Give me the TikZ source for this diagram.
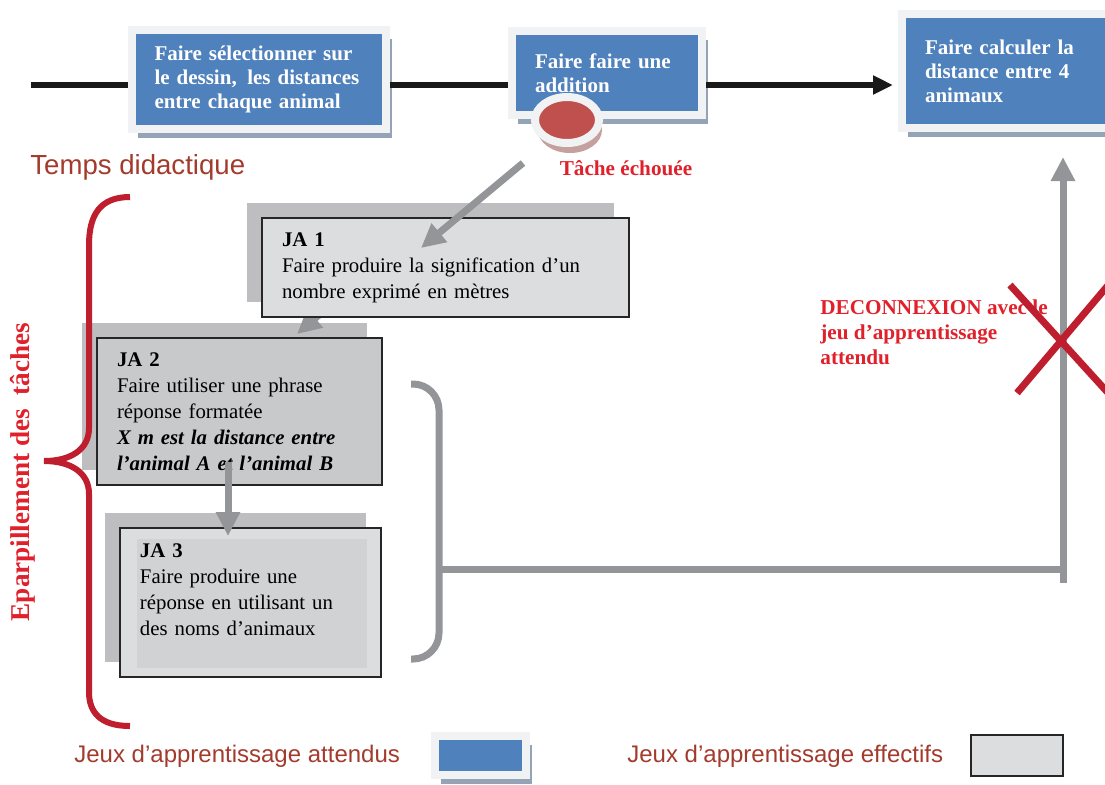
\documentclass[tikz,border=0pt]{standalone}
\usepackage{fontspec}
\setmainfont{Liberation Serif}
\setsansfont{Liberation Sans}
\usetikzlibrary{positioning, calc, arrows.meta, shadows, shapes.geometric}
\definecolor{attbleu}{HTML}{4F81BD}
\definecolor{cadreclair}{HTML}{F1F2F3}
\definecolor{ombrebleue}{HTML}{94A3B6}
\definecolor{ombrerouge}{HTML}{C4A09E}
\definecolor{echecrouge}{HTML}{C0504D}
\definecolor{jaclair}{HTML}{DCDDDF}
\definecolor{jafonce}{HTML}{C8C9CB}
\definecolor{jainterne}{HTML}{D1D2D4}
\definecolor{jaombre}{HTML}{BEBEC0}
\definecolor{grisfleche}{HTML}{939598}
\definecolor{rougecroix}{HTML}{BE1E2D}
\definecolor{rougevif}{HTML}{E0202A}
\definecolor{brique}{HTML}{A33B2D}
\pgfdeclarelayer{dessus}
\pgfsetlayers{main,dessus}

\begin{document}
\begin{tikzpicture}[x=0.5pt,y=-0.5pt,
    attendu/.style={fill=attbleu,draw=cadreclair,line width=4pt,text=white,align=left,
        font=\fontsize{10.5}{12}\selectfont\bfseries,inner xsep=11.5pt,
        drop shadow={shadow xshift=3pt,shadow yshift=-4.5pt,fill=ombrebleue,opacity=1}},
    effectif/.style={fill=jaclair,draw=black!85,line width=1pt,align=left,
        font=\fontsize{10.4}{13}\selectfont,inner xsep=10pt},
    ombreja/.style={drop shadow={shadow xshift=-7.5pt,shadow yshift=7.5pt,fill=jaombre,opacity=1}},
    grislien/.style={draw=grisfleche,line width=3.5pt},
    grisfl/.style={grislien,-{Triangle[length=12pt,width=11.5pt]}},
    temps/.style={draw=black!90,line width=3pt},
    rouge/.style={text=rougevif,font=\fontsize{10.6}{12.5}\selectfont\bfseries,align=left,inner sep=0pt},
    legende/.style={text=brique,font=\sffamily\fontsize{12}{14}\selectfont,inner sep=0pt,anchor=base west}]
\useasboundingbox (0,0) rectangle (1105,784);

\node[attendu,text width=104pt,minimum height=49.5pt] (sel) at (258.5,79.5) {Faire sélectionner sur\\le dessin,\,\ les distances\\entre chaque animal};
\node[attendu,text width=72pt,minimum height=41.75pt] (add) at (607,72.75) {Faire faire une\\addition};
\node[attendu,text width=80.5pt,minimum height=57pt] (calc) at (1005.5,71) {Faire calculer la\\distance entre 4\\animaux};
\coordinate (debut) at (31,85);
\draw[temps] (debut) -- (sel.west |- debut) (sel.east |- debut) -- (add.west |- debut);
\draw[temps,-{Triangle[length=10pt,width=9pt]},shorten >=2.5pt] (add.east |- debut) -- (calc.west |- debut);
\node[ellipse,fill=echecrouge,draw=cadreclair,line width=4pt,minimum width=32pt,minimum height=23pt,inner sep=0pt,
    drop shadow={shadow xshift=1.5pt,shadow yshift=-5pt,fill=ombrerouge,opacity=1}] (echec) at (567,120) {};
\node[rouge] (tache) at (626,168.5) {Tâche échouée};
\node[anchor=base west,inner sep=0pt,text=brique,font=\sffamily\fontsize{13.8}{16}\selectfont] (tps) at (30,174) {Temps didactique};

\begin{pgfonlayer}{dessus}
\node[effectif,ombreja,text width=163.5pt,minimum height=49.5pt] (ja1) at (445.5,267.5) {\textbf{JA 1}\\Faire produire la signification d’un\\nombre exprimé en mètres};
\coordinate (depart) at (523,163);
\draw[grisfl] (depart) -- ([shift={(160,31)}]ja1.north west);
\end{pgfonlayer}

\node[effectif,ombreja,fill=jafonce,text width=122.5pt,minimum height=73.5pt] (ja2) at (239.5,411.5) {\textbf{JA 2}\\Faire utiliser une phrase\\réponse formatée\\\textbf{\itshape X m est la distance entre}\\\textbf{\itshape l’animal A et l’animal B}};
\draw[grisfl] ([shift={(80,-22)}]ja1.south west) -- ([shift={(201,-3)}]ja2.north west);
\node[effectif,ombreja,text width=110.5pt,minimum height=74.5pt,
    path picture={\fill[jainterne] ([shift={(17,11)}]path picture bounding box.north west) rectangle ([shift={(-14,-9)}]path picture bounding box.south east);}]
    (ja3) at (250.5,602.5) {\textbf{JA 3}\\Faire produire une\\réponse en utilisant un\\des noms d’animaux\\\mbox{}};
\coordinate (axe) at (228,0);
\draw[grisfl] ($(ja2.south -| axe)+(0,-24)$) -- ($(ja3.north -| axe)+(0,9)$);

\coordinate (jonction) at (439,569);
\coordinate (montee) at (1063,583);
\draw[grislien,rounded corners=13pt] (411,384) -- (439,384) -- (439,659) -- (411,659);
\draw[grislien] (jonction) -- (montee |- jonction);
\draw[grisfl,shorten >=12.5pt] (montee) -- (calc.south -| montee);

\node[rouge,anchor=north west] (deco) at (820,299) {DECONNEXION avec le\\jeu d’apprentissage\\attendu};
\draw[draw=rougecroix,line width=3.5pt] (1010,285) -- (1110,395) (1017,393) -- (1110,283);

\draw[draw=rougecroix,line width=3pt] (130,197) .. controls (100,197) and (89,215) .. (89,245) -- (89,428)
    .. controls (89,450) and (70,461) .. (44,461) .. controls (70,461) and (89,472) .. (89,494) -- (89,692)
    .. controls (89,712) and (100,726) .. (130,726);
\node[rotate=90,text=rougevif,font=\fontsize{13.6}{15}\selectfont\bfseries] (eparp) at (23,472) {Eparpillement des~ tâches};

\node[legende] (legatt) at (74,762) {Jeux d’apprentissage attendus};
\node[attendu,minimum width=45.5pt,minimum height=19.5pt,inner sep=0pt,right=15.5pt of legatt] (legbleu) {};
\node[legende] (legeff) at (627,762) {Jeux d’apprentissage effectifs};
\node[effectif,minimum width=46pt,minimum height=20.5pt,inner sep=0pt,right=13pt of legeff] (leggris) {};
\end{tikzpicture}
\end{document}
